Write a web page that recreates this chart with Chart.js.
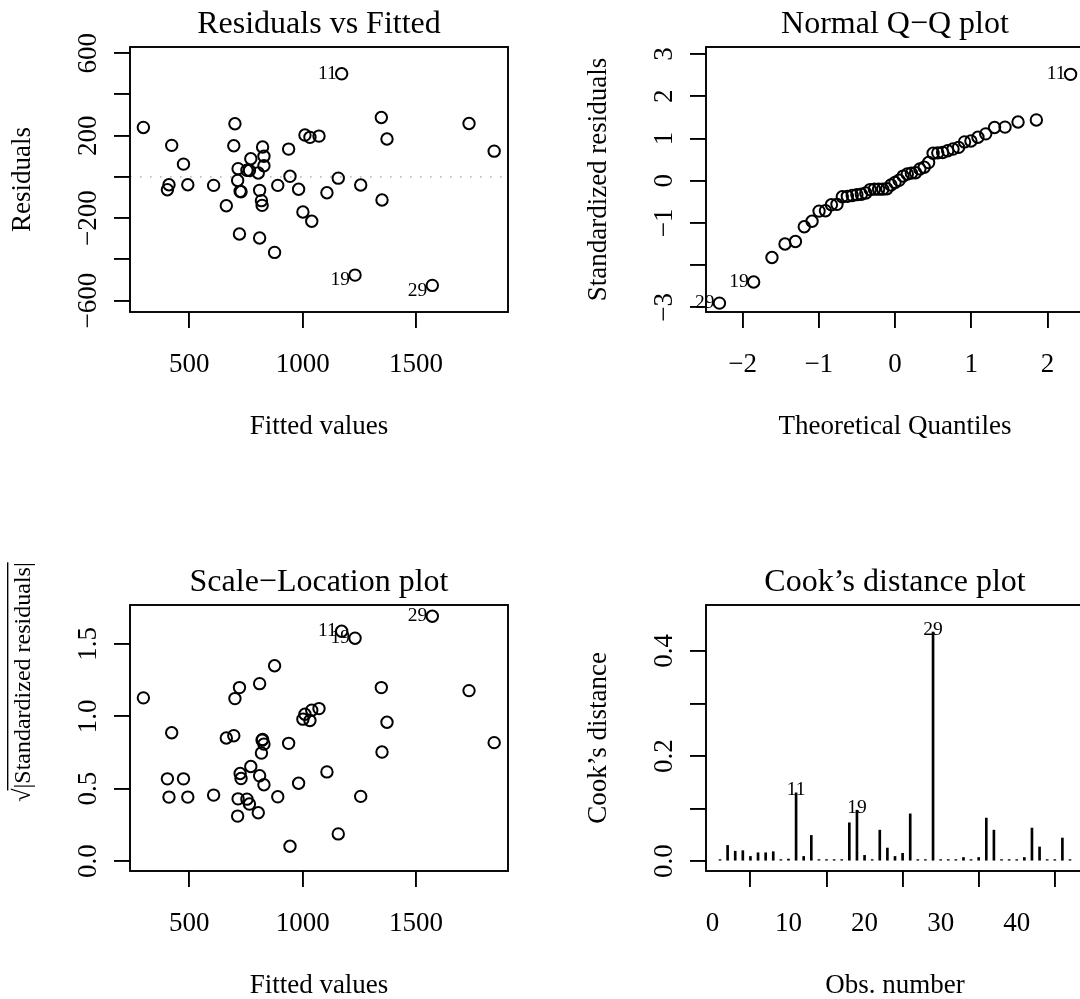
<!DOCTYPE html>
<html><head><meta charset="utf-8">
<script src="https://cdn.jsdelivr.net/npm/chart.js@4.4.1/dist/chart.umd.min.js"></script>
<style>
html,body{margin:0;padding:0;background:#fff;overflow:hidden;width:1080px;height:999px;position:relative;}
canvas{position:absolute;}
</style></head><body>
<canvas id="c1" width="576" height="441" style="left:0;top:0"></canvas>
<canvas id="c2" width="576" height="441" style="left:576px;top:0"></canvas>
<canvas id="c3" width="576" height="441" style="left:0;top:558px"></canvas>
<canvas id="c4" width="576" height="441" style="left:576px;top:558px"></canvas>
<script>
// ---------- data ----------
const fitted = [297, 422, 474, 410, 403, 493, 607, 701, 696, 663, 1172, 715, 713, 724, 728, 721, 771, 754, 1231, 765, 804, 810, 829, 823, 818, 821, 829, 810, 1572, 876, 890, 938, 944, 982, 1001, 1010, 1032, 1040, 1072, 1107, 1157, 1256, 1347, 1350, 1372, 1734, 1845];
const residuals = [240, 153, 62, -38, -62, -38, -41, 258, 151, -140, 500, 40, -17, -70, -72, -277, 88, 32, -476, 31, 19, -65, 54, 145, -115, -138, 100, -296, -526, -366, -41, 135, 3, -60, -170, 203, 192, -215, 198, -77, -6, -39, 288, -112, 184, 259, 125];
const sqrtAbsStdRes = [1.127, 0.886, 0.568, 0.442, 0.568, 0.442, 0.456, 1.122, 0.866, 0.850, 1.587, 0.430, 0.311, 0.605, 0.570, 1.198, 0.653, 0.428, 1.539, 0.394, 0.334, 0.589, 0.527, 0.840, 0.746, 0.835, 0.808, 1.225, 1.690, 1.349, 0.444, 0.813, 0.103, 0.538, 0.980, 1.014, 0.971, 1.042, 1.053, 0.616, 0.188, 0.447, 1.198, 0.753, 0.959, 1.177, 0.818];
const qqTheoretical = [-2.303, -1.854, -1.614, -1.443, -1.306, -1.190, -1.088, -0.996, -0.912, -0.834, -0.761, -0.691, -0.625, -0.561, -0.500, -0.441, -0.383, -0.326, -0.270, -0.215, -0.161, -0.107, -0.053, 0, 0.053, 0.107, 0.161, 0.215, 0.270, 0.326, 0.383, 0.441, 0.500, 0.561, 0.625, 0.691, 0.761, 0.834, 0.912, 0.996, 1.088, 1.190, 1.306, 1.443, 1.614, 1.854, 2.303];
const qqSample = [-2.90, -2.40, -1.82, -1.50, -1.44, -1.09, -0.96, -0.72, -0.71, -0.57, -0.56, -0.38, -0.37, -0.35, -0.33, -0.32, -0.29, -0.21, -0.20, -0.20, -0.20, -0.19, -0.10, -0.04, 0.01, 0.11, 0.16, 0.18, 0.19, 0.28, 0.32, 0.43, 0.65, 0.66, 0.67, 0.71, 0.75, 0.79, 0.92, 0.94, 1.03, 1.11, 1.26, 1.27, 1.39, 1.44, 2.52];
const obsNumber = [1,2,3,4,5,6,7,8,9,10,11,12,13,14,15,16,17,18,19,20,21,22,23,24,25,26,27,28,29,30,31,32,33,34,35,36,37,38,39,40,41,42,43,44,45,46,47];
const cooksDistance = [0.003, 0.030, 0.019, 0.020, 0.009, 0.016, 0.016, 0.018, 0.003, 0.004, 0.130, 0.009, 0.049, 0.003, 0.003, 0.003, 0.003, 0.073, 0.097, 0.011, 0.003, 0.059, 0.025, 0.009, 0.015, 0.090, 0.003, 0.003, 0.436, 0.003, 0.003, 0.003, 0.007, 0.003, 0.007, 0.082, 0.059, 0.003, 0.003, 0.003, 0.007, 0.063, 0.027, 0.003, 0.003, 0.044, 0.003];

// tick values and tick labels ("" = tick without label)
const fittedTicks = [500, 1000, 1500];
const fittedTickLabels = ["500", "1000", "1500"];
const residTicks = [-600, -400, -200, 0, 200, 400, 600];
const residTickLabels = ["\u2212600", "", "\u2212200", "", "200", "", "600"];
const qqXTicks = [-2, -1, 0, 1, 2];
const qqXTickLabels = ["\u22122", "\u22121", "0", "1", "2"];
const qqYTicks = [-3, -2, -1, 0, 1, 2, 3];
const qqYTickLabels = ["\u22123", "", "\u22121", "0", "1", "2", "3"];
const slYTicks = [0, 0.5, 1, 1.5];
const slYTickLabels = ["0.0", "0.5", "1.0", "1.5"];
const cookXTicks = [0, 10, 20, 30, 40];
const cookXTickLabels = ["0", "10", "20", "30", "40"];
const cookYTicks = [0, 0.1, 0.2, 0.3, 0.4];
const cookYTickLabels = ["0.0", "", "0.2", "", "0.4"];

// ---------- drawing ----------
const FONT = '"Liberation Serif","Times New Roman",Times,serif';
const LW = 1.9;

const rFrame = {
  id: 'rFrame',
  beforeDatasetsDraw(chart, args, o) {
    if (o.hline === undefined) return;
    const ctx = chart.ctx, a = chart.chartArea, y = chart.scales.y.getPixelForValue(o.hline);
    ctx.save();
    ctx.strokeStyle = '#bebebe'; ctx.lineWidth = 1.6; ctx.setLineDash([1.6, 8.4]);
    ctx.beginPath(); ctx.moveTo(a.left, y); ctx.lineTo(a.right, y); ctx.stroke();
    ctx.restore();
  },
  afterDraw(chart, args, o) {
    const ctx = chart.ctx, a = chart.chartArea, xs = chart.scales.x, ys = chart.scales.y;
    ctx.save();
    ctx.strokeStyle = '#000'; ctx.lineWidth = LW;
    ctx.strokeRect(a.left, a.top, a.right - a.left, a.bottom - a.top);
    ctx.fillStyle = '#000';
    ctx.textAlign = 'center'; ctx.textBaseline = 'alphabetic';
    ctx.font = '32px ' + FONT;
    ctx.fillText(o.title, (a.left + a.right) / 2, a.top - 14);
    ctx.font = '27px ' + FONT;
    o.xTicks.forEach((v, i) => { if (o.xLabels[i]) ctx.fillText(o.xLabels[i], xs.getPixelForValue(v), a.bottom + 59.5); });
    ctx.fillText(o.xTitle, (a.left + a.right) / 2, a.bottom + 122);
    o.yTicks.forEach((v, i) => {
      if (!o.yLabels[i]) return;
      ctx.save(); ctx.translate(a.left - 34, ys.getPixelForValue(v)); ctx.rotate(-Math.PI / 2);
      ctx.fillText(o.yLabels[i], 0, 0); ctx.restore();
    });
    // y title
    ctx.save();
    if (o.sqrtTitle) {
      const fs = 24;
      ctx.font = fs + 'px ' + FONT;
      ctx.translate(30, a.top + 77); ctx.rotate(-Math.PI / 2);
      const txt = '\u221A|' + o.yTitle + '|';
      const W = ctx.measureText(txt).width, w1 = ctx.measureText('\u221A').width;
      ctx.fillText(txt, 0, 0);
      ctx.lineWidth = 1.4;
      ctx.beginPath(); ctx.moveTo(-W / 2 + w1 * 0.85, -fs * 0.93); ctx.lineTo(W / 2, -fs * 0.93); ctx.stroke();
    } else {
      ctx.translate(30, (a.top + a.bottom) / 2); ctx.rotate(-Math.PI / 2);
      ctx.fillText(o.yTitle, 0, 0);
    }
    ctx.restore();
    // identified observations
    const meta = chart.getDatasetMeta(0);
    ctx.font = '19.5px ' + FONT;
    (o.ids || []).forEach(l => {
      const el = meta.data[l.i];
      if (l.pos === 'left') {
        ctx.textAlign = 'right'; ctx.textBaseline = 'middle';
        ctx.fillText(l.text, el.x - 5, el.y + (l.dy || 0));
      } else {
        ctx.textAlign = 'center'; ctx.textBaseline = 'alphabetic';
        ctx.fillText(l.text, el.x, el.y + 2.5);
      }
    });
    ctx.restore();
  }
};

function axis(min, max, ticks, isX, size) {
  return {
    type: 'linear', min: min, max: max, offset: false,
    afterBuildTicks: s => { s.ticks = ticks.map(v => ({ value: v })); },
    afterFit: s => { if (isX) s.height = size; else s.width = size; },
    ticks: { display: false },
    border: { display: false },
    grid: { display: true, drawOnChartArea: false, drawTicks: true, tickLength: 16, tickColor: '#000', tickWidth: LW, color: '#000', lineWidth: LW }
  };
}

function baseOptions(xs, ys, frame) {
  return {
    responsive: false, animation: false, devicePixelRatio: 1,
    layout: { padding: { top: 47, right: 68, left: 0, bottom: 0 }, autoPadding: false },
    scales: { x: xs, y: ys },
    plugins: { legend: { display: false }, title: { display: false }, tooltip: { enabled: false }, rFrame: frame }
  };
}

const pointStyle = { pointStyle: 'circle', pointRadius: 5.7, pointBorderWidth: 2, pointBorderColor: '#000', pointBackgroundColor: 'rgba(0,0,0,0)', showLine: false, clip: false };

// Panel 1: Residuals vs Fitted
new Chart(document.getElementById('c1'), {
  type: 'scatter',
  data: { datasets: [Object.assign({ data: fitted.map((f, i) => ({ x: f, y: residuals[i] })) }, pointStyle)] },
  options: baseOptions(axis(238, 1906, fittedTicks, true, 129), axis(-655, 630, residTicks, false, 130), {
    title: 'Residuals vs Fitted', xTitle: 'Fitted values', yTitle: 'Residuals',
    xTicks: fittedTicks, xLabels: fittedTickLabels, yTicks: residTicks, yLabels: residTickLabels, hline: 0,
    ids: [{ i: 10, text: '11', pos: 'left' }, { i: 18, text: '19', pos: 'left', dy: 5 }, { i: 28, text: '29', pos: 'left', dy: 5 }]
  }),
  plugins: [rFrame]
});

// Panel 2: Normal Q-Q
new Chart(document.getElementById('c2'), {
  type: 'scatter',
  data: { datasets: [Object.assign({ data: qqTheoretical.map((q, i) => ({ x: q, y: qqSample[i] })) }, pointStyle)] },
  options: baseOptions(axis(-2.479, 2.479, qqXTicks, true, 129), axis(-3.11, 3.168, qqYTicks, false, 130), {
    title: 'Normal Q\u2212Q plot', xTitle: 'Theoretical Quantiles', yTitle: 'Standardized residuals',
    xTicks: qqXTicks, xLabels: qqXTickLabels, yTicks: qqYTicks, yLabels: qqYTickLabels,
    ids: [{ i: 0, text: '29', pos: 'left' }, { i: 1, text: '19', pos: 'left' }, { i: 46, text: '11', pos: 'left' }]
  }),
  plugins: [rFrame]
});

// Panel 3: Scale-Location
new Chart(document.getElementById('c3'), {
  type: 'scatter',
  data: { datasets: [Object.assign({ data: fitted.map((f, i) => ({ x: f, y: sqrtAbsStdRes[i] })) }, pointStyle)] },
  options: baseOptions(axis(238, 1906, fittedTicks, true, 128), axis(-0.068, 1.768, slYTicks, false, 130), {
    title: 'Scale\u2212Location plot', xTitle: 'Fitted values', yTitle: 'Standardized residuals', sqrtTitle: true,
    xTicks: fittedTicks, xLabels: fittedTickLabels, yTicks: slYTicks, yLabels: slYTickLabels,
    ids: [{ i: 10, text: '11', pos: 'left' }, { i: 18, text: '19', pos: 'left' }, { i: 28, text: '29', pos: 'left' }]
  }),
  plugins: [rFrame]
});

// Panel 4: Cook's distance
new Chart(document.getElementById('c4'), {
  type: 'bar',
  data: { datasets: [{ data: cooksDistance.map((d, i) => ({ x: obsNumber[i], y: d })), backgroundColor: '#000', borderWidth: 0, barThickness: 2 }] },
  options: baseOptions(axis(-0.84, 48.84, cookXTicks, true, 128), axis(-0.0187, 0.4874, cookYTicks, false, 130), {
    title: 'Cook\u2019s distance plot', xTitle: 'Obs. number', yTitle: 'Cook\u2019s distance',
    xTicks: cookXTicks, xLabels: cookXTickLabels, yTicks: cookYTicks, yLabels: cookYTickLabels,
    ids: [{ i: 10, text: '11', pos: 'top' }, { i: 18, text: '19', pos: 'top' }, { i: 28, text: '29', pos: 'top' }]
  }),
  plugins: [rFrame]
});
</script>
</body></html>
